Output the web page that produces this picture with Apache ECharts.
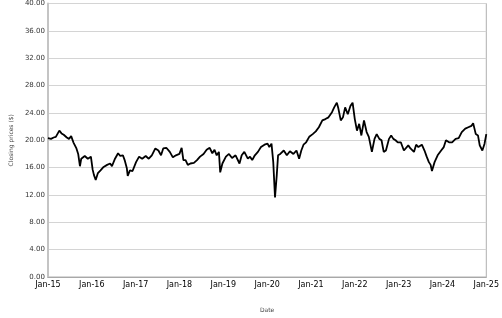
<!DOCTYPE html>
<html>
<head>
<meta charset="utf-8">
<script src="https://cdn.jsdelivr.net/npm/echarts@6/dist/echarts.min.js"></script>
<style>html,body{margin:0;padding:0;background:#fff}#c{width:502px;height:318px}</style>
</head>
<body>
<div id="c"></div>
<script>
var years = [2015.00,2015.07,2015.13,2015.18,2015.26,2015.31,2015.36,2015.43,2015.48,2015.53,2015.58,2015.65,2015.69,2015.73,2015.76,2015.84,2015.91,2015.98,
2016.02,2016.05,2016.09,2016.14,2016.20,2016.27,2016.35,2016.42,2016.46,2016.53,2016.60,2016.65,2016.71,2016.75,2016.80,2016.82,2016.87,2016.93,
2017.01,2017.08,2017.15,2017.23,2017.30,2017.37,2017.45,2017.52,2017.58,2017.63,2017.70,2017.78,2017.85,2017.92,
2018.00,2018.05,2018.09,2018.14,2018.19,2018.25,2018.33,2018.40,2018.47,2018.55,2018.62,2018.69,2018.75,2018.80,2018.85,2018.90,2018.93,2018.98,
2019.06,2019.13,2019.20,2019.28,2019.37,2019.42,2019.48,2019.56,2019.61,2019.66,2019.72,2019.79,2019.86,2019.94,
2020.01,2020.05,2020.10,2020.14,2020.18,2020.22,2020.25,2020.30,2020.38,2020.45,2020.52,2020.60,2020.67,2020.73,2020.78,2020.83,2020.89,2020.96,
2021.04,2021.11,2021.18,2021.26,2021.33,2021.40,2021.48,2021.53,2021.59,2021.62,2021.68,2021.73,2021.78,2021.84,2021.90,2021.95,
2022.00,2022.05,2022.10,2022.15,2022.21,2022.27,2022.32,2022.36,2022.39,2022.45,2022.50,2022.56,2022.61,2022.66,2022.71,2022.78,2022.83,2022.88,2022.93,2022.98,
2023.05,2023.12,2023.16,2023.22,2023.27,2023.35,2023.40,2023.45,2023.53,2023.59,2023.64,2023.69,2023.73,2023.76,2023.82,2023.89,2023.97,
2024.03,2024.08,2024.15,2024.22,2024.30,2024.37,2024.44,2024.52,2024.59,2024.66,2024.70,2024.76,2024.81,2024.85,2024.91,2024.96,2025.00];
var prices = [20.3,20.2,20.4,20.5,21.4,21.0,20.8,20.4,20.2,20.6,19.7,18.8,18.0,16.2,17.3,17.7,17.3,17.6,
15.7,14.9,14.2,15.2,15.6,16.1,16.4,16.6,16.2,17.3,18.1,17.7,17.8,17.1,15.9,14.8,15.6,15.5,
16.8,17.6,17.3,17.7,17.3,17.8,18.8,18.5,17.8,18.8,18.9,18.3,17.5,17.8,
18.0,18.9,17.1,17.1,16.4,16.6,16.7,17.1,17.6,18.0,18.6,18.9,18.1,18.6,17.8,18.3,15.3,16.6,
17.6,18.0,17.4,17.8,16.6,17.8,18.3,17.3,17.6,17.1,17.8,18.3,19.0,19.35,
19.5,19.0,19.5,16.8,11.65,14.9,17.8,18.0,18.5,17.8,18.4,18.0,18.5,17.3,18.5,19.35,19.7,20.5,
20.9,21.3,21.9,22.9,23.1,23.35,24.1,24.8,25.5,24.8,22.9,23.35,24.8,23.8,25.0,25.5,
23.1,21.4,22.4,20.7,22.9,21.2,20.5,20.7,18.3,20.2,20.9,20.2,20.0,18.3,18.5,20.2,20.7,20.2,20.0,19.7,
19.7,18.5,18.3,19.25,18.8,18.3,19.35,19.0,19.35,18.5,17.6,16.8,16.4,15.5,16.8,17.8,18.5,
19.0,20.0,19.7,19.7,20.2,20.3,21.2,21.7,21.9,22.1,22.5,20.9,20.7,19.25,18.5,19.5,20.9];
var yTicks = [0,4,8,12,16,20,24,28,32,36,40];
var xTickLabels = ['Jan-15','Jan-16','Jan-17','Jan-18','Jan-19','Jan-20','Jan-21','Jan-22','Jan-23','Jan-24','Jan-25'];

var data = years.map(function(y,i){return [y, prices[i]];});
var chart = echarts.init(document.getElementById('c'), null, {renderer:'canvas'});
chart.setOption({
  animation:false,
  grid:{left:35,right:12,top:3,bottom:38,show:true,borderColor:'#b0b0b0',borderWidth:1,containLabel:false},
  xAxis:{type:'value',min:2015,max:2025,interval:1,
    name:'Date',nameLocation:'middle',nameGap:30,
    nameTextStyle:{fontFamily:'DejaVu Sans',fontSize:6,color:'#444'},
    axisLine:{show:true,lineStyle:{color:'#a8a8a8',width:1}},
    axisTick:{show:false},
    splitLine:{show:false},
    axisLabel:{fontFamily:'DejaVu Sans',fontSize:8,color:'#000',margin:4,
      formatter:function(v){return xTickLabels[Math.round(v-2015)];}}
  },
  yAxis:{type:'value',min:0,max:40,interval:4,
    name:'Closing prices ($)',nameLocation:'middle',nameGap:27,nameRotate:90,
    nameTextStyle:{fontFamily:'DejaVu Sans',fontSize:6,color:'#444'},
    axisLine:{show:true,lineStyle:{color:'#c4c4c4',width:2}},
    axisTick:{show:false},
    splitLine:{show:true,lineStyle:{color:'#d4d4d4',width:1}},
    axisLabel:{fontFamily:'DejaVu Sans',fontSize:7,color:'#333',margin:3,
      formatter:function(v){return yTicks.indexOf(v)>=0 ? v.toFixed(2) : '';}}
  },
  series:[{type:'line',data:data,showSymbol:false,symbol:'none',
    lineStyle:{color:'#000',width:1.8},z:5}]
});
</script>
</body>
</html>
